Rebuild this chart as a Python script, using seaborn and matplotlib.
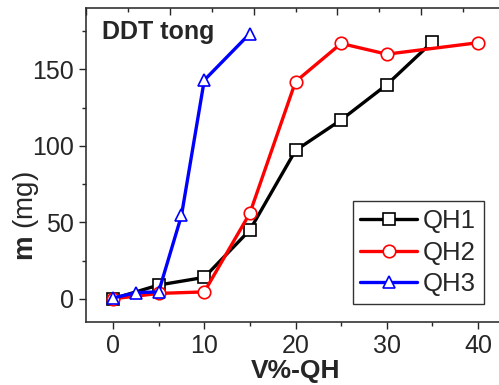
import matplotlib
matplotlib.use("Agg")
import matplotlib.pyplot as plt
import seaborn as sns
from matplotlib.ticker import MultipleLocator

# data
qh1_x = [0, 5, 10, 15, 20, 25, 30, 35]
qh1_y = [0, 9, 14, 45, 97, 117, 140, 168]
qh2_x = [0, 5, 10, 15, 20, 25, 30, 40]
qh2_y = [0, 3.5, 4.5, 56, 142, 167, 160, 167.5]
qh3_x = [0, 2.5, 5, 7.5, 10, 15]
qh3_y = [0.5, 4, 4.5, 54.5, 143, 173.5]

series = [("QH1", qh1_x, qh1_y, "black", "s"),
          ("QH2", qh2_x, qh2_y, "red", "o"),
          ("QH3", qh3_x, qh3_y, "blue", "^")]

sns.set_style("ticks")
plt.rcParams["font.family"] = ["Liberation Sans", "DejaVu Sans"]
plt.rcParams["mathtext.fontset"] = "custom"
plt.rcParams["mathtext.bf"] = "Liberation Sans:bold"
plt.rcParams["mathtext.rm"] = "Liberation Sans"

fig = plt.figure(figsize=(4.99, 3.85), dpi=100)
ax = fig.add_axes([0.1717, 0.1644, 0.841, 0.814])

for name, xs, ys, col, mk in series:
    sns.lineplot(x=xs, y=ys, ax=ax, color=col, marker=mk, linewidth=2.4,
                 markersize=9, markerfacecolor="white", markeredgecolor=col,
                 markeredgewidth=1.2, label=name)

ax.set_xlim(-3, 43)
ax.set_ylim(-15, 190)
ax.xaxis.set_major_locator(MultipleLocator(10))
ax.xaxis.set_minor_locator(MultipleLocator(5))
ax.yaxis.set_major_locator(MultipleLocator(50))
ax.yaxis.set_minor_locator(MultipleLocator(25))
ax.tick_params(which="both", direction="out", labelsize=18, width=1)
ax.tick_params(which="major", length=5)
ax.tick_params(which="minor", length=3)
for sp in ax.spines.values():
    sp.set_visible(True)
    sp.set_color("#333333")
    sp.set_linewidth(1.2)

# top axis ticks (inward, own spacing)
top = ax.twiny()
top.set_xlim(0, 1)
top.xaxis.set_major_locator(MultipleLocator(0.2))
top.xaxis.set_minor_locator(MultipleLocator(0.1))
top.tick_params(which="both", direction="in", labeltop=False, width=1)
top.tick_params(which="major", length=5)
top.tick_params(which="minor", length=3)
for sp in top.spines.values():
    sp.set_visible(False)
ax.set_ylim(-15, 190)

ax.set_xlabel("V%-QH", fontsize=19, fontweight="bold", labelpad=1)
ax.set_ylabel(r"$\mathbf{m}$ (mg)", fontsize=20, va="center")
ax.yaxis.set_label_coords(-0.142, 0.337)
ax.text(0.04, 0.925, "DDT tong", transform=ax.transAxes, fontsize=18,
        fontweight="bold", va="center", ha="left")

leg = ax.legend(loc="lower right", bbox_to_anchor=(0.949, 0.0565), fontsize=18.5,
                frameon=True, fancybox=False, edgecolor="black",
                handlelength=2.2, handletextpad=0.25, borderpad=0.3,
                labelspacing=0.3, borderaxespad=0)
leg.get_frame().set_linewidth(1.0)

fig.savefig("out.png", dpi=100)
